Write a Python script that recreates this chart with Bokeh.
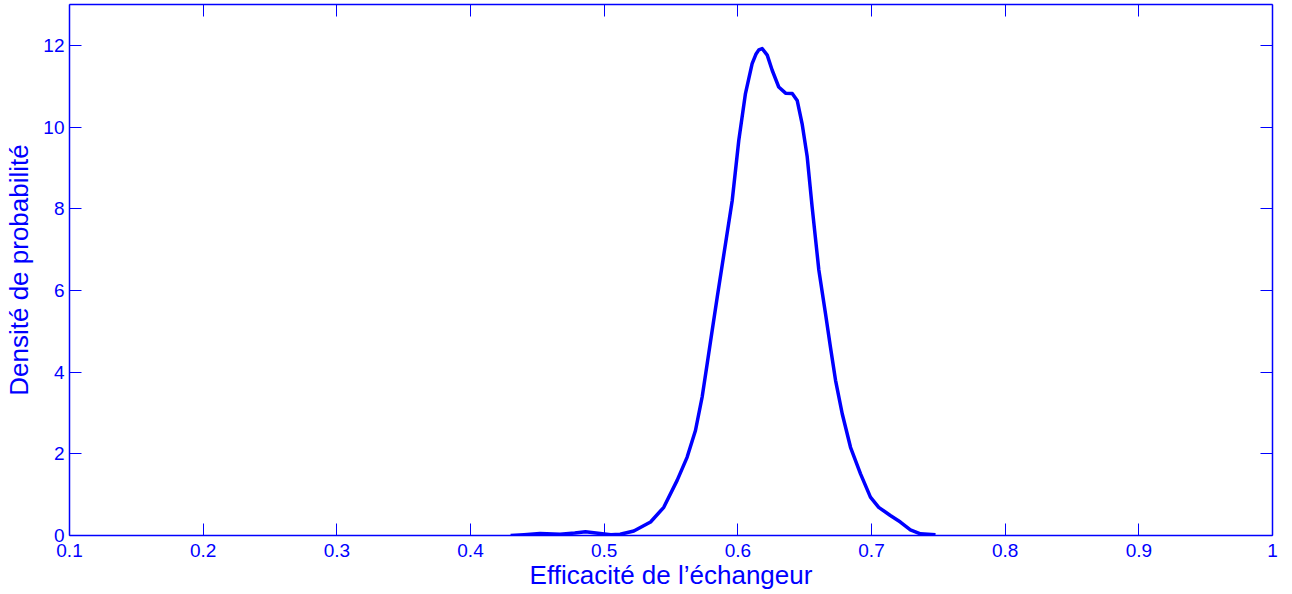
from bokeh.plotting import figure
from bokeh.models import LinearAxis, FixedTicker, Range1d, CustomJSTickFormatter
from bokeh.embed import file_html
from bokeh.resources import INLINE

# ---- data ----
efficacite = [0.430, 0.440, 0.452, 0.467, 0.478, 0.486, 0.497, 0.505, 0.512, 0.5222,
              0.5347, 0.5446, 0.5546, 0.5621, 0.5683, 0.5733, 0.5771, 0.5808, 0.5846,
              0.5958, 0.6007, 0.6057, 0.6107, 0.6135, 0.6157, 0.6182, 0.6220, 0.6257, 0.6306,
              0.6357, 0.6407, 0.6444, 0.6481, 0.6519, 0.6556, 0.6606, 0.6656, 0.6693, 0.6731,
              0.6781, 0.6843, 0.6918, 0.6992, 0.7054, 0.7141, 0.7216, 0.7291, 0.7366, 0.7479]
densite = [0.00, 0.02, 0.05, 0.03, 0.06, 0.09, 0.05, 0.02, 0.03, 0.11,
           0.33, 0.69, 1.35, 1.92, 2.57, 3.39, 4.21, 5.02, 5.84,
           8.20, 9.67, 10.82, 11.55, 11.78, 11.89, 11.92, 11.76, 11.39, 10.98,
           10.83, 10.82, 10.65, 10.08, 9.27, 8.04, 6.50, 5.43, 4.61, 3.80,
           2.98, 2.16, 1.51, 0.94, 0.69, 0.49, 0.33, 0.14, 0.04, 0.02]

x_ticks = [0.1, 0.2, 0.3, 0.4, 0.5, 0.6, 0.7, 0.8, 0.9, 1.0]
x_tick_labels = ["0.1", "0.2", "0.3", "0.4", "0.5", "0.6", "0.7", "0.8", "0.9", "1"]
y_ticks = [0, 2, 4, 6, 8, 10, 12]
y_tick_labels = ["0", "2", "4", "6", "8", "10", "12"]

x_label = "Efficacité de l’échangeur"
y_label = "Densité de probabilité"

BLUE = "#0000ff"
FONT = "Liberation Sans"

p = figure(width=1292, height=594, output_backend="svg", toolbar_location=None,
           x_range=Range1d(0.1, 1.0), y_range=Range1d(0, 13),
           min_border_left=69, min_border_right=20, min_border_top=4, min_border_bottom=59,
           x_axis_label=x_label, y_axis_label=y_label)
p.xgrid.visible = False
p.ygrid.visible = False
p.outline_line_color = None
p.background_fill_color = "white"
p.border_fill_color = "white"

p.line(efficacite, densite, line_color=BLUE, line_width=3.5, line_join="round")

def style(ax, ticks, labels, show_labels):
    ax.ticker = FixedTicker(ticks=ticks)
    ax.axis_line_color = BLUE
    ax.axis_line_width = 1.5
    ax.major_tick_line_color = BLUE
    ax.major_tick_line_width = 1
    ax.major_tick_in = 12
    ax.major_tick_out = 0
    ax.minor_tick_line_color = None
    if show_labels:
        ax.major_label_overrides = {t: l for t, l in zip(ticks, labels)}
        ax.major_label_text_color = BLUE
        ax.major_label_text_font = FONT
        ax.major_label_text_font_size = "19px"
        ax.axis_label_text_color = BLUE
        ax.axis_label_text_font = FONT
        ax.axis_label_text_font_size = "26px"
        ax.axis_label_text_font_style = "normal"
    else:
        ax.formatter = CustomJSTickFormatter(code="return ''")
        ax.major_label_standoff = 0
        ax.major_label_text_font_size = "1px"

xb = p.xaxis[0]
yl = p.yaxis[0]
style(xb, x_ticks, x_tick_labels, True)
style(yl, y_ticks, y_tick_labels, True)
xb.major_label_standoff = 8
xb.axis_label_standoff = 0
yl.major_label_standoff = 5
yl.axis_label_standoff = 6

xt = LinearAxis()
style(xt, x_ticks, x_tick_labels, False)
p.add_layout(xt, "above")
yr = LinearAxis()
style(yr, y_ticks, y_tick_labels, False)
p.add_layout(yr, "right")

open("out.html", "w").write(file_html(p, INLINE))
